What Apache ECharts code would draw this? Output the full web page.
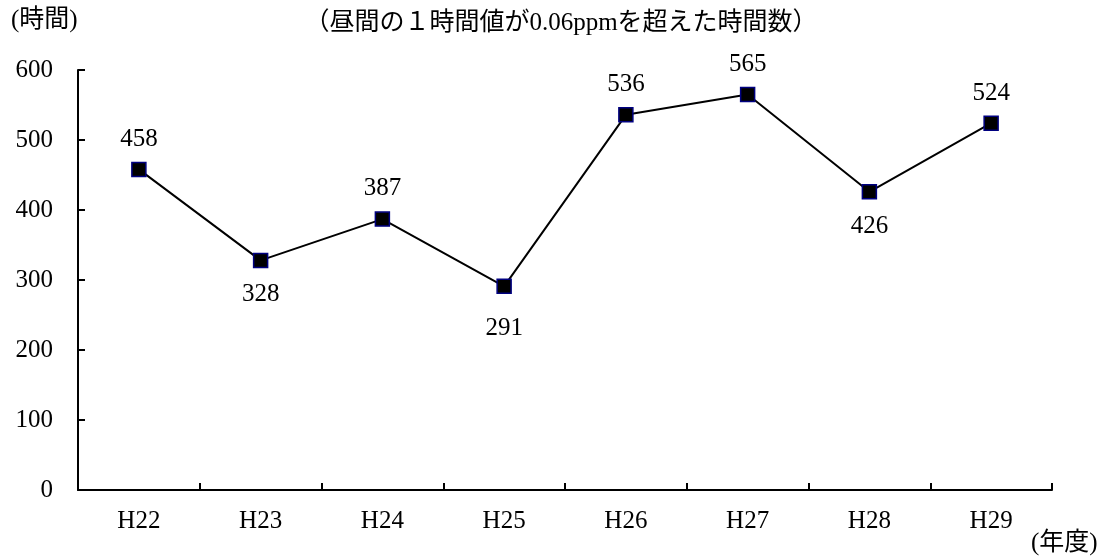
<!DOCTYPE html>
<html>
<head>
<meta charset="utf-8">
<script src="https://cdn.jsdelivr.net/npm/echarts@6/dist/echarts.min.js"></script>
<style>
    html, body { margin: 0; padding: 0; background: #fff; }
    #chart { width: 1109px; height: 558px; }
</style>
</head>
<body>
<div id="chart"></div>
<script>
// 年度と時間数
var years = ['H22', 'H23', 'H24', 'H25', 'H26', 'H27', 'H28', 'H29'];
var hours = [458, 328, 387, 291, 536, 565, 426, 524];
var yTicks = [0, 100, 200, 300, 400, 500, 600];

var FONT = '"Liberation Serif", "Noto Sans CJK JP", serif';

var chartData = hours.map(function (v, i) {
    // 谷になっている点はラベルを下に
    var prev = i > 0 ? hours[i - 1] : Infinity;
    var next = i < hours.length - 1 ? hours[i + 1] : Infinity;
    var low = v < prev && v < next;
    return {
        value: v,
        label: { position: low ? 'bottom' : 'top', distance: low ? (v < 300 ? 22 : 14) : 10 }
    };
});

var option = {
    animation: false,
    textStyle: { fontFamily: FONT },
    title: {
        text: '（昼間の１時間値が0.06ppmを超えた時間数）',
        left: 556,
        top: 6,
        textAlign: 'center',
        textStyle: { fontFamily: FONT, fontSize: 25, fontWeight: 'normal', color: '#000' }
    },
    graphic: [
        { type: 'text', left: 11, top: 8, style: { text: '(時間)', font: '25px ' + FONT, fill: '#000' } },
        { type: 'text', left: 1031, top: 531, style: { text: '(年度)', font: '25px ' + FONT, fill: '#000' } }
    ],
    grid: { left: 78, right: 57, top: 70, bottom: 68, containLabel: false },
    xAxis: {
        type: 'category',
        data: years,
        boundaryGap: true,
        axisLine: { show: true, lineStyle: { color: '#000', width: 2 } },
        axisTick: { show: true, inside: true, length: 7, lineStyle: { color: '#000', width: 2 } },
        axisLabel: { color: '#000', fontSize: 25, fontFamily: FONT, margin: 19 }
    },
    yAxis: {
        type: 'value',
        min: yTicks[0],
        max: yTicks[yTicks.length - 1],
        interval: 100,
        axisLine: { show: true, lineStyle: { color: '#000', width: 2 } },
        axisTick: { show: true, inside: true, length: 7, lineStyle: { color: '#000', width: 2 } },
        splitLine: { show: false },
        axisLabel: { color: '#000', fontSize: 25, fontFamily: FONT, margin: 25 }
    },
    series: [{
        type: 'line',
        data: chartData,
        symbol: 'rect',
        symbolSize: 14,
        lineStyle: { color: '#000', width: 2 },
        itemStyle: { color: '#000', borderColor: '#000080', borderWidth: 1.5 },
        label: { show: true, color: '#000', fontSize: 25, fontFamily: FONT }
    }]
};

var myChart = echarts.init(document.getElementById('chart'));
myChart.setOption(option);
</script>
</body>
</html>
